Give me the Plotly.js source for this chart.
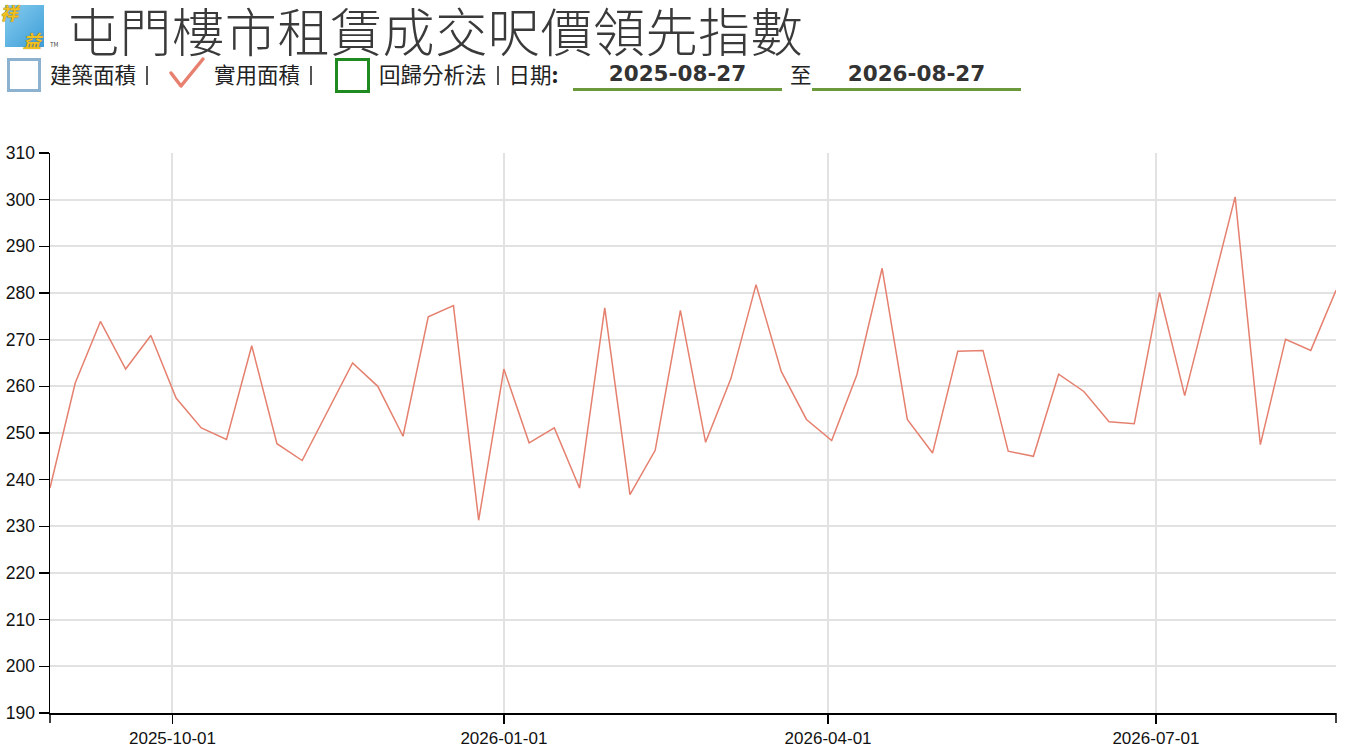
<!DOCTYPE html>
<html>
<head>
<meta charset="utf-8">
<script src="https://cdn.plot.ly/plotly-3.0.1.min.js"></script>
<style>
  html, body { margin:0; padding:0; background:#fff; width:1351px; height:746px; overflow:hidden; }
  #chart { position:absolute; left:0; top:0; width:1351px; height:746px; }
  .hdr { position:absolute; z-index:5; font-family:"Noto Sans CJK TC","Noto Sans",sans-serif; color:#222; white-space:nowrap; }
  #logo { left:5px; top:5px; width:39px; height:42px; background:linear-gradient(135deg,#86cdf0,#3d9dd6); }
  #logo span { position:absolute; color:#f0c020; font-style:italic; font-weight:bold; font-size:18px; text-shadow:0 0 1px #7a5200; line-height:1; }
  #title { left:67px; top:-5px; font-size:52px; font-weight:300; color:#3a3a3a; letter-spacing:0.6px; line-height:1.35; }
  .box { position:absolute; z-index:5; box-sizing:border-box; }
  .lbl { font-size:21.5px; top:60px; color:#222; line-height:1.3; }
  .bar { display:inline-block; width:2px; height:19px; background:#555; margin:0 10px 0 10px; vertical-align:-2px; }
  .date { font-family:"DejaVu Sans","Liberation Sans",sans-serif; font-weight:bold; font-size:21.5px; top:59px; text-align:center; color:#333; border-bottom:3px solid #6b9a3c; height:29px; line-height:29px; }
</style>
</head>
<body>
<div id="chart"></div>
<div class="hdr" id="logo"><span style="left:-5px;top:-2px;">祥</span><span style="left:18px;top:26px;">益</span><span style="left:45px;top:37px;font-size:6px;font-style:normal;font-weight:normal;color:#444;text-shadow:none;">TM</span></div>
<div class="hdr" id="title">屯門樓市租賃成交呎價領先指數</div>
<div class="box" style="left:7px;top:58px;width:34px;height:34px;border:3px solid #8db2cf;"></div>
<div class="hdr lbl" style="left:50px;">建築面積<span class="bar"></span></div>
<svg class="box" style="left:168px;top:56px;" width="40" height="36"><polyline points="3,17 13,30 35,3" fill="none" stroke="#e8806f" stroke-width="3.5" stroke-linecap="round" stroke-linejoin="round"/></svg>
<div class="hdr lbl" style="left:214px;">實用面積<span class="bar"></span></div>
<div class="box" style="left:335px;top:58px;width:35px;height:35px;border:3px solid #1f8a1f;"></div>
<div class="hdr lbl" style="left:379px;">回歸分析法<span class="bar"></span>日期<b>:</b></div>
<div class="hdr date" style="left:573px;width:209px;">2025-08-27</div>
<div class="hdr lbl" style="left:790px;">至</div>
<div class="hdr date" style="left:812px;width:209px;">2026-08-27</div>
<script>
const dates = [
 "2025-08-28","2025-09-04","2025-09-11","2025-09-18","2025-09-25","2025-10-02","2025-10-09","2025-10-16","2025-10-23","2025-10-30",
 "2025-11-06","2025-11-13","2025-11-20","2025-11-27","2025-12-04","2025-12-11","2025-12-18","2025-12-25","2026-01-01","2026-01-08",
 "2026-01-15","2026-01-22","2026-01-29","2026-02-05","2026-02-12","2026-02-19","2026-02-26","2026-03-05","2026-03-12","2026-03-19",
 "2026-03-26","2026-04-02","2026-04-09","2026-04-16","2026-04-23","2026-04-30","2026-05-07","2026-05-14","2026-05-21","2026-05-28",
 "2026-06-04","2026-06-11","2026-06-18","2026-06-25","2026-07-02","2026-07-09","2026-07-16","2026-07-23","2026-07-30","2026-08-06",
 "2026-08-13","2026-08-20"
];
const saleableIndex = [
 238.2,260.7,273.9,263.7,270.9,257.5,251.1,248.6,268.7,247.7,
 244.1,254.6,265.0,260.0,249.3,274.9,277.3,231.3,263.7,247.9,
 251.1,238.2,276.8,236.8,246.3,276.3,248.0,261.6,281.8,263.2,
 252.9,248.4,262.5,285.3,252.9,245.7,267.5,267.7,246.1,245.0,
 262.6,258.9,252.4,252.0,280.1,258.0,279.5,300.6,247.5,270.1,
 267.7,280.6
];
const xTickVals = ["2025-10-01","2026-01-01","2026-04-01","2026-07-01"];
const xTickText = ["2025-10-01","2026-01-01","2026-04-01","2026-07-01"];
const yRange = [190, 310];

const trace = {
  x: dates, y: saleableIndex, type: "scatter", mode: "lines",
  line: {color: "#e5806f", width: 1.5}, hoverinfo: "x+y", showlegend: false
};
const layout = {
  width: 1351, height: 746,
  margin: {l: 50, r: 15, t: 153, b: 33},
  paper_bgcolor: "#fff", plot_bgcolor: "#fff",
  font: {family: "Liberation Sans, Arial, sans-serif", size: 17, color: "#111"},
  xaxis: {
    type: "date", range: [dates[0], dates[dates.length-1]],
    tickvals: xTickVals, ticktext: xTickText,
    showgrid: true, gridcolor: "#e2e2e2", gridwidth: 2,
    showline: true, linecolor: "#000", linewidth: 1.5,
    ticks: "outside", ticklen: 9, tickcolor: "#000", tickwidth: 1.5,
    tickfont: {size: 17, color: "#111"}, zeroline: false
  },
  yaxis: {
    range: yRange, dtick: 10, tick0: 190,
    showgrid: true, gridcolor: "#e2e2e2", gridwidth: 2,
    showline: true, linecolor: "#000", linewidth: 1.5,
    ticks: "outside", ticklen: 10, tickcolor: "#000", tickwidth: 1.5,
    tickfont: {size: 17.5, color: "#111"}, zeroline: false
  },
  shapes: [
    {type: "line", xref: "paper", yref: "paper", x0: 0, x1: 0, y0: 0, y1: -0.018, line: {color: "#000", width: 1.5}},
    {type: "line", xref: "paper", yref: "paper", x0: 1, x1: 1, y0: 0, y1: -0.018, line: {color: "#000", width: 1.5}}
  ]
};
Plotly.newPlot("chart", [trace], layout, {displayModeBar: false, staticPlot: true});
</script>
</body>
</html>
